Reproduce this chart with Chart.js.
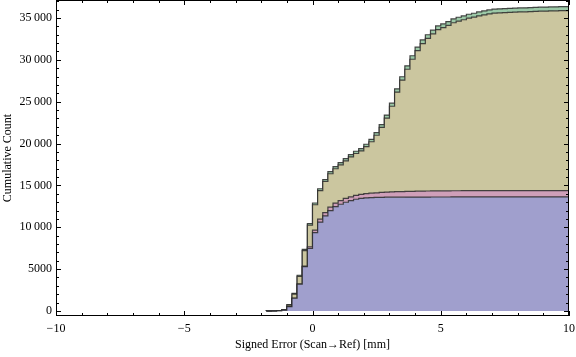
<!DOCTYPE html>
<html>
<head>
<meta charset="utf-8">
<script src="https://cdn.jsdelivr.net/npm/chart.js@4/dist/chart.umd.min.js"></script>
<style>
  html, body { margin: 0; padding: 0; background: #fff; }
</style>
</head>
<body>
<canvas id="cumulative" width="576" height="357"></canvas>
<script>
// bin edges (mm), 0.2 mm bins; last entry closes the final bin
const binEdges = [-1.8, -1.6, -1.4, -1.2, -1.0, -0.8, -0.6, -0.4, -0.2, 0.0,
  0.2, 0.4, 0.6, 0.8, 1.0, 1.2, 1.4, 1.6, 1.8, 2.0,
  2.2, 2.4, 2.6, 2.8, 3.0, 3.2, 3.4, 3.6, 3.8, 4.0,
  4.2, 4.4, 4.6, 4.8, 5.0, 5.2, 5.4, 5.6, 5.8, 6.0,
  6.2, 6.4, 6.6, 6.8, 7.0, 7.2, 7.4, 7.6, 7.8, 8.0,
  8.2, 8.4, 8.6, 8.8, 9.0, 9.2, 9.4, 9.6, 9.8, 10.0];

// cumulative counts per series, one value per bin (stacked in this order)
const blueCounts = [10, 15, 20, 40, 90, 510, 1520, 3190, 5290, 7490,
  9360, 10620, 11350, 11980, 12460, 12750, 12990, 13180, 13350, 13450,
  13500, 13540, 13560, 13580, 13590, 13595, 13600, 13600, 13605, 13605,
  13610, 13610, 13610, 13615, 13615, 13615, 13615, 13620, 13620, 13620,
  13620, 13620, 13620, 13620, 13620, 13620, 13620, 13620, 13620, 13620,
  13620, 13620, 13620, 13620, 13620, 13620, 13620, 13620, 13620];
const pinkCounts = [0, 0, 0, 0, 5, 10, 20, 40, 80, 180,
  300, 350, 400, 420, 430, 440, 450, 460, 470, 490,
  510, 530, 560, 590, 610, 630, 650, 670, 680, 690,
  700, 710, 720, 725, 730, 735, 740, 742, 745, 747,
  749, 750, 751, 752, 753, 754, 755, 756, 757, 757,
  758, 758, 759, 759, 760, 760, 760, 760, 760];
const khakiCounts = [5, 5, 10, 20, 30, 190, 480, 910, 1840, 2590,
  3030, 3405, 3715, 3995, 4100, 4275, 4500, 4765, 4990, 5175,
  5625, 6145, 6870, 7760, 8850, 10235, 11900, 13310, 14595, 15775,
  16782, 17625, 18230, 18765, 19255, 19488, 19760, 20070, 20265, 20421,
  20617, 20734, 20881, 20998, 21116, 21204, 21242, 21270, 21298, 21317,
  21345, 21355, 21373, 21403, 21431, 21451, 21460, 21480, 21500];
const greenCounts = [0, 0, 0, 0, 5, 40, 90, 130, 160, 190,
  210, 225, 235, 245, 250, 255, 260, 265, 270, 275,
  285, 295, 310, 330, 350, 370, 390, 400, 410, 420,
  428, 435, 440, 445, 450, 452, 455, 458, 460, 462,
  464, 466, 468, 470, 471, 472, 473, 474, 475, 476,
  477, 477, 478, 478, 479, 479, 480, 480, 480];

const xTicks = [-10, -5, 0, 5, 10];
const yTicks = [0, 5000, 10000, 15000, 20000, 25000, 30000, 35000];

const edgeColor = 'rgba(40,40,40,0.85)';

function steps(counts) {
  // one point per bin edge; the closing edge repeats the last bin
  return binEdges.map((x, i) => ({ x: x, y: counts[Math.min(i, counts.length - 1)] }));
}

function layer(counts, color, fill) {
  return {
    data: steps(counts),
    stepped: 'after',
    fill: fill,
    backgroundColor: color,
    borderColor: edgeColor,
    borderWidth: 1.2,
    pointRadius: 0,
    tension: 0
  };
}

function fmt(v) {
  if (v < 0) return '\u2212' + Math.abs(v);
  const s = String(v);
  return v >= 10000 ? s.slice(0, s.length - 3) + '\u2009' + s.slice(-3) : s;
}

// Mathematica-style frame with inward ticks on all four sides
const frameTicks = {
  id: 'frameTicks',
  afterDatasetsDraw(chart) {
    const { ctx, chartArea: a, scales: { x, y } } = chart;
    ctx.save();
    ctx.strokeStyle = '#000';
    ctx.lineWidth = 1;
    ctx.beginPath();
    for (let v = -10; v <= 10; v++) {
      const px = Math.round(x.getPixelForValue(v)) + 0.5;
      const len = v % 5 === 0 ? 5 : 3;
      ctx.moveTo(px, a.bottom); ctx.lineTo(px, a.bottom - len);
      ctx.moveTo(px, a.top); ctx.lineTo(px, a.top + len);
    }
    for (let v = 0; v <= 37000; v += 1000) {
      const py = Math.round(y.getPixelForValue(v)) + 0.5;
      const len = v % 5000 === 0 ? 5 : 3;
      ctx.moveTo(a.left, py); ctx.lineTo(a.left + len, py);
      ctx.moveTo(a.right, py); ctx.lineTo(a.right - len, py);
    }
    ctx.stroke();
    ctx.strokeRect(a.left + 0.5, a.top + 0.5, a.right - a.left - 1, a.bottom - a.top - 1);
    ctx.restore();
  }
};

const serif = { family: '"Liberation Serif", "Times New Roman", serif', size: 12 };

new Chart(document.getElementById('cumulative'), {
  type: 'line',
  data: {
    datasets: [
      layer(blueCounts, '#a09fcd', 'origin'),
      layer(pinkCounts, '#cf9fb9', '-1'),
      layer(khakiCounts, '#cbc69f', '-1'),
      layer(greenCounts, '#9cc9a7', '-1')
    ]
  },
  options: {
    responsive: false,
    animation: false,
    layout: { padding: { top: 0, right: 7, left: 0, bottom: 0 } },
    plugins: { legend: { display: false }, tooltip: { enabled: false } },
    scales: {
      x: {
        type: 'linear',
        min: -10,
        max: 10,
        afterBuildTicks: s => { s.ticks = xTicks.map(v => ({ value: v })); },
        afterFit: s => { s.height = 41; s.paddingLeft = 0; s.paddingRight = 0; },
        grid: { display: false, drawTicks: false },
        border: { display: false },
        ticks: { color: '#000', font: serif, padding: 6, maxRotation: 0, callback: v => fmt(v) },
        title: { display: true, text: 'Signed Error (Scan\u2192Ref) [mm]', color: '#000', font: serif, padding: { top: 0, bottom: 5 } }
      },
      y: {
        stacked: true,
        min: -600,
        max: 37150,
        afterBuildTicks: s => { s.ticks = yTicks.map(v => ({ value: v })); },
        afterFit: s => { s.width = 56; s.paddingTop = 0; s.paddingBottom = 0; },
        grid: { display: false, drawTicks: false },
        border: { display: false },
        ticks: { color: '#000', font: serif, padding: 4, callback: v => fmt(v) },
        title: { display: true, text: 'Cumulative Count', color: '#000', font: serif, padding: { top: 1, bottom: 0 } }
      }
    }
  },
  plugins: [frameTicks]
});
</script>
</body>
</html>
